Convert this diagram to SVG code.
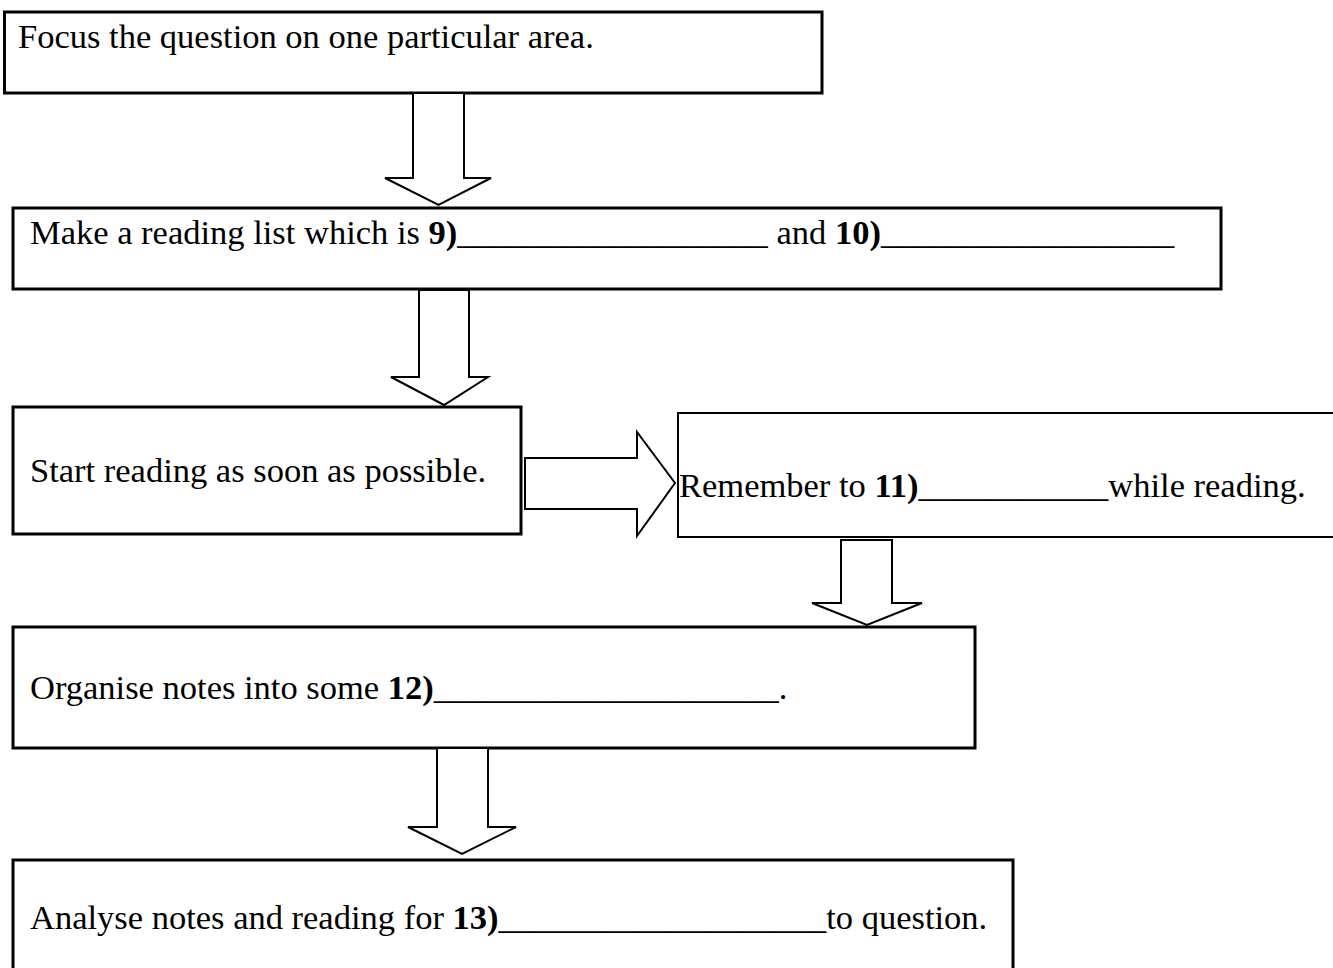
<svg xmlns="http://www.w3.org/2000/svg" width="1333" height="968" viewBox="0 0 1333 968">
<style>
  .box { fill: #ffffff; stroke: #000000; stroke-width: 3; }
  .box-thin { fill: #ffffff; stroke: #000000; stroke-width: 2; }
  .arrow { fill: #ffffff; stroke: #000000; stroke-width: 2; stroke-linejoin: miter; }
  .t { font-family: "Liberation Serif", "Times New Roman", serif; font-size: 34.5px; fill: #000000; }
  .b { font-weight: bold; }
</style>
<rect x="0" y="0" width="1333" height="968" fill="#ffffff"/>
<g id="node-focus">
  <rect class="box" x="4.5" y="12" width="817.5" height="81"/>
  <text class="t" x="18" y="48">Focus the question on one particular area.</text>
</g>
<g id="node-reading-list">
  <rect class="box" x="13" y="208" width="1208" height="81"/>
  <text class="t" x="30" y="244">Make a reading list which is <tspan class="b">9)</tspan>__________________ and <tspan class="b">10)</tspan>_________________</text>
</g>
<g id="node-start-reading">
  <rect class="box" x="13" y="407" width="508" height="127"/>
  <text class="t" x="30" y="482">Start reading as soon as possible.</text>
</g>
<g id="node-remember">
  <rect class="box-thin" x="678" y="413" width="680" height="124"/>
  <text class="t" x="679" y="497">Remember to <tspan class="b">11)</tspan>___________while reading.</text>
</g>
<g id="node-organise">
  <rect class="box" x="13" y="627" width="962" height="121"/>
  <text class="t" x="30" y="699">Organise notes into some <tspan class="b">12)</tspan>____________________.</text>
</g>
<g id="node-analyse">
  <rect class="box" x="13" y="860" width="1000" height="120"/>
  <text class="t" x="30" y="929">Analyse notes and reading for <tspan class="b">13)</tspan>___________________to question.</text>
</g>
<g id="connectors">
  <polygon class="arrow" points="413,93 464,93 464,178 491,178 438.5,205 385,178 413,178"/>
  <polygon class="arrow" points="419,290 469,290 469,377 488,377 444,405 391,377 419,377"/>
  <polygon class="arrow" points="525,458 637,458 637,432 675,483 637,536 637,509 525,509"/>
  <polygon class="arrow" points="841,540 892,540 892,603 922,603 867,625 812,603 841,603"/>
  <polygon class="arrow" points="437,748 488,748 488,827 516,827 462,854 408,827 437,827"/>
</g>
</svg>
